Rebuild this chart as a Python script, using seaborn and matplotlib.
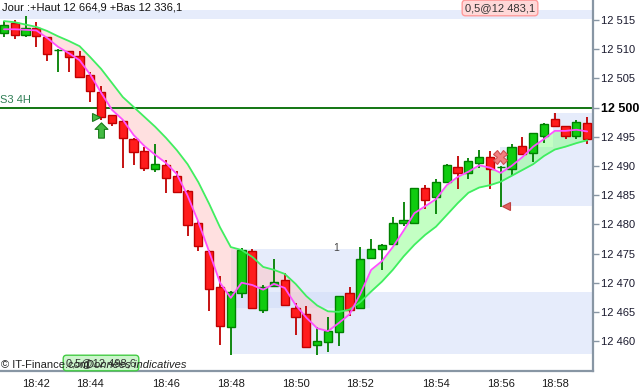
import numpy as np
import pandas as pd
import matplotlib
matplotlib.use("Agg")
import matplotlib.pyplot as plt
import seaborn as sns
from matplotlib.path import Path
from matplotlib.patches import Rectangle
from matplotlib.transforms import blended_transform_factory

# ---------------- data ----------------
time_labels = ["18:42", "18:44", "18:46", "18:48", "18:50", "18:52", "18:54", "18:56", "18:58"]
time_ticks = [3, 8, 15, 21, 27, 33, 40, 46, 51]

price_ticks = [12460, 12465, 12470, 12475, 12480, 12485, 12490, 12495, 12500, 12505, 12510, 12515]
price_labels = ["12 460", "12 465", "12 470", "12 475", "12 480", "12 485", "12 490",
                "12 495", "12 500", "12 505", "12 510", "12 515"]

opens = [12512.7, 12514.5, 12512.5, 12513.7, 12512.0, 12509.8, 12509.6, 12508.8, 12505.5, 12502.7,
         12498.7, 12497.7, 12494.6, 12492.5, 12489.5, 12490.2, 12488.2, 12485.7, 12480.3, 12475.5,
         12469.3, 12462.4, 12468.2, 12475.4, 12465.4, 12469.4, 12470.5, 12465.6, 12464.6, 12459.4,
         12459.9, 12461.6, 12468.2, 12465.6, 12474.2, 12475.8, 12476.6, 12480.2, 12480.3, 12486.3,
         12484.6, 12487.2, 12489.8, 12488.8, 12490.5, 12491.6, 12489.8, 12489.4, 12493.4, 12492.2,
         12495.1, 12498.0, 12496.8, 12495.1, 12497.3]
highs = [12514.8, 12515.0, 12515.7, 12514.6, 12512.1, 12510.1, 12509.7, 12509.6, 12506.0, 12503.7,
         12498.8, 12497.8, 12494.7, 12493.2, 12493.7, 12491.0, 12489.1, 12485.8, 12480.6, 12475.6,
         12471.1, 12468.5, 12475.9, 12475.8, 12469.6, 12474.1, 12471.6, 12466.5, 12466.0, 12462.4,
         12464.1, 12467.8, 12469.3, 12476.1, 12477.5, 12476.7, 12481.2, 12483.8, 12486.3, 12486.7,
         12487.7, 12490.3, 12491.7, 12491.3, 12492.8, 12492.5, 12489.9, 12493.7, 12494.9, 12495.7,
         12497.4, 12499.0, 12496.9, 12497.8, 12498.3]
lows = [12512.1, 12511.7, 12512.0, 12510.3, 12508.0, 12506.0, 12506.0, 12505.1, 12501.0, 12497.9,
        12496.8, 12489.7, 12490.2, 12489.1, 12489.0, 12485.3, 12485.5, 12478.0, 12475.4, 12465.2,
        12459.3, 12457.7, 12467.3, 12465.5, 12464.8, 12469.3, 12466.0, 12461.0, 12458.8, 12457.7,
        12458.2, 12459.2, 12464.3, 12465.5, 12474.1, 12472.1, 12476.5, 12479.7, 12480.2, 12482.6,
        12481.7, 12487.1, 12486.1, 12487.8, 12489.7, 12486.1, 12483.0, 12488.3, 12491.9, 12490.7,
        12494.0, 12496.6, 12494.6, 12494.6, 12493.8]
closes = [12514.1, 12512.5, 12513.7, 12512.3, 12509.1, 12509.9, 12508.7, 12505.3, 12502.8, 12498.3,
          12497.4, 12494.8, 12492.4, 12489.7, 12490.3, 12488.0, 12485.6, 12479.8, 12476.2, 12468.9,
          12462.6, 12468.4, 12475.6, 12465.6, 12469.3, 12470.1, 12466.1, 12464.2, 12459.0, 12460.1,
          12461.7, 12467.7, 12465.4, 12474.1, 12475.7, 12476.4, 12480.2, 12480.7, 12486.2, 12484.2,
          12487.2, 12490.1, 12488.8, 12490.8, 12491.5, 12489.5, 12489.8, 12493.2, 12492.0, 12495.6,
          12497.1, 12496.9, 12495.2, 12497.6, 12494.6]

ma_fast = [12513.4, 12513.4, 12513.3, 12513.2, 12511.9, 12510.4, 12509.3, 12508.1, 12505.6, 12502.5,
           12499.6, 12497.9, 12495.3, 12493.4, 12491.9, 12490.5, 12488.6, 12484.9, 12480.4, 12475.3,
           12470.0, 12467.4, 12470.0, 12469.6, 12468.8, 12469.8, 12469.1, 12466.2, 12464.0, 12462.2,
           12461.7, 12463.1, 12464.6, 12468.1, 12472.2, 12473.7, 12476.1, 12478.9, 12481.9, 12483.1,
           12484.3, 12486.7, 12488.1, 12489.0, 12490.1, 12489.7, 12488.8, 12490.0, 12491.5, 12493.3,
           12494.6, 12496.0, 12496.0, 12496.2, 12495.9]
ma_slow = [12514.8, 12514.6, 12514.2, 12513.8, 12513.1, 12512.2, 12511.4, 12510.5, 12508.6, 12506.6,
           12504.2, 12501.8, 12500.1, 12498.4, 12496.7, 12494.8, 12492.7, 12490.3, 12487.2, 12483.5,
           12479.5, 12476.1, 12475.6, 12474.4, 12472.7, 12472.2, 12471.5, 12469.8, 12467.7, 12466.1,
           12465.1, 12465.0, 12465.4, 12466.7, 12468.5, 12470.2, 12472.2, 12474.5, 12476.5, 12478.2,
           12479.6, 12481.6, 12483.6, 12485.4, 12486.3, 12486.7, 12487.3, 12488.3, 12489.3, 12490.3,
           12491.7, 12492.8, 12493.3, 12493.9, 12494.4]

# zones: (start index, end index or None for right edge, low price, high price)
zone_start = [-0.37, 21.0, 21.0, 45.9, 50.8]
zone_end = [None, 33.9, None, None, None]
zone_low = [12515.2, 12465.7, 12457.8, 12483.1, 12493.3]
zone_high = [12516.7, 12475.8, 12468.4, 12493.3, 12499.1]

support_level = 12500
support_label = "S3 4H"

buy_idx = [9.0]
buy_price = [12496.2]
entry_idx = [8.5]
entry_price = [12498.4]
exit_idx = [45.9]
exit_price = [12491.5]
target_idx = [46.5]
target_price = [12483.1]
count_idx = [30.8]
count_price = [12475.9]
count_text = ["1"]

header_text = "Jour :+Haut 12 664,9 +Bas 12 336,1"
sell_label = "0,5@12 483,1"
buy_label = "0,5@12 498,6"

# ---------------- figure ----------------
sns.set_style("white")
plt.rcParams["font.family"] = ["Liberation Sans", "DejaVu Sans"]

W, H = 641, 389
fig = plt.figure(figsize=(W / 100, H / 100), dpi=100)
ax = fig.add_axes([0, 18 / H, 593 / W, 371 / H])

idx = np.arange(len(opens))
df = pd.DataFrame({"idx": idx, "open": opens, "high": highs, "low": lows, "close": closes,
                   "fast": ma_fast, "slow": ma_slow})

xmin, xmax = -0.37, 54.54
ax.set_xlim(xmin, xmax)
ax.set_ylim(12454.88, 12518.41)

# zones
for xs, xe, lo, hi in zip(zone_start, zone_end, zone_low, zone_high):
    xe = xmax if xe is None else xe
    ax.add_patch(Rectangle((xs, lo), xe - xs, hi - lo, facecolor="#cfdbf8", alpha=0.5,
                           edgecolor="none", zorder=0.5))

# band fill between averages
fast = df["fast"].values
slow = df["slow"].values
ax.fill_between(idx, fast, slow, where=slow >= fast, interpolate=True,
                color="#ffc2c2", alpha=0.5, linewidth=0, zorder=1)
ax.fill_between(idx, fast, slow, where=fast > slow, interpolate=True,
                color="#88ff88", alpha=0.5, linewidth=0, zorder=1)

# support line
ax.axhline(support_level, color="#006a00", lw=1.3, zorder=1.5)
ax.text(0.0, support_level + 1.35, support_label, transform=blended_transform_factory(ax.transAxes, ax.transData),
        ha="left", va="center", fontsize=8, color="#2f7f55", zorder=6)

# candles
up = df["close"] >= df["open"]
edge = np.where(up, "#008000", "#c00000")
fill = np.where(up, "#10cc10", "#ff1c1c")
ax.vlines(df["idx"], df["low"], df["high"], colors=edge, lw=1.3, zorder=2)
body_lo = np.minimum(df["open"], df["close"])
body_h = np.maximum(np.abs(df["close"] - df["open"]), 0.04)
ax.bar(df["idx"], body_h, bottom=body_lo, width=0.76, color=fill, edgecolor=edge,
       linewidth=1.0, zorder=3)

# moving averages
sns.lineplot(data=df, x="idx", y="slow", ax=ax, color="#40ee60", lw=1.3, zorder=4)
sns.lineplot(data=df, x="idx", y="fast", ax=ax, color="#ff50ff", lw=1.3, zorder=4)

# signals
arrow = Path([(0, 1), (0.85, 0.15), (0.38, 0.15), (0.38, -1), (-0.38, -1), (-0.38, 0.15),
              (-0.85, 0.15), (0, 1)],
             [Path.MOVETO] + [Path.LINETO] * 6 + [Path.CLOSEPOLY])
ax.plot(buy_idx, buy_price, marker=arrow, ms=11, color="#44bb44", mec="#1a7a1a", mew=0.8,
        ls="none", zorder=6)
ax.plot(entry_idx, entry_price, marker=">", ms=6, color="#44bb44", mec="#1a7a1a", mew=0.8,
        ls="none", zorder=6)
ax.plot(exit_idx, exit_price, marker="X", ms=10, color="#f08080", mec="#d05050", mew=0.8,
        ls="none", zorder=6)
ax.plot(target_idx, target_price, marker="<", ms=6, color="#e06060", mec="#c04040", mew=0.8,
        ls="none", zorder=6)
for xi, yi, t in zip(count_idx, count_price, count_text):
    ax.text(xi, yi, t, fontsize=7.5, color="#444444", ha="center", va="center", zorder=6)

# axes styling
for s in ["left", "top"]:
    ax.spines[s].set_visible(False)
for s in ["right", "bottom"]:
    ax.spines[s].set_color("#8896a4")
    ax.spines[s].set_linewidth(1.6)
ax.yaxis.tick_right()
ax.set_yticks(price_ticks)
ax.set_yticklabels(price_labels)
ax.set_xticks(time_ticks)
ax.set_xticklabels(time_labels)
ax.tick_params(axis="y", direction="out", length=4, width=1, color="#8896a4", labelsize=8,
               pad=2, labelcolor="#1a1a2e", right=True, left=False)
ax.tick_params(axis="x", direction="out", length=4, width=1, color="#8896a4", labelsize=8,
               pad=1.5, labelcolor="#1a1a1a")
for lab, v in zip(ax.get_yticklabels(), price_ticks):
    if v == support_level:
        lab.set_fontweight("bold")
        lab.set_fontsize(9)
        lab.set_color("black")
ax.set_xlabel("")
ax.set_ylabel("")
ax.grid(False)
ax.set_facecolor("white")

# texts around
fig.text(2 / W, 1 - 7 / H, header_text, fontsize=8, color="#111111", ha="left", va="center")
fig.text(500 / W, 1 - 8 / H, sell_label, fontsize=8, color="#333333", ha="center", va="center",
         bbox=dict(boxstyle="round,pad=0.25,rounding_size=0.3", fc="#ffd8d8", ec="#ff9c9c", lw=1))
fig.text(101 / W, 1 - 363 / H, buy_label, fontsize=8, color="#333333", ha="center", va="center",
         bbox=dict(boxstyle="round,pad=0.25,rounding_size=0.3", fc="#ccf5cc", ec="#44cc44", lw=1))
fig.text(1 / W, 1 - 365 / H, "© IT-Finance.com", fontsize=8, color="#222222", ha="left", va="center")
fig.text(86 / W, 1 - 365 / H, "Données indicatives", fontsize=8, color="#222222", ha="left",
         va="center", style="italic")

fig.savefig("out.png", dpi=100)
